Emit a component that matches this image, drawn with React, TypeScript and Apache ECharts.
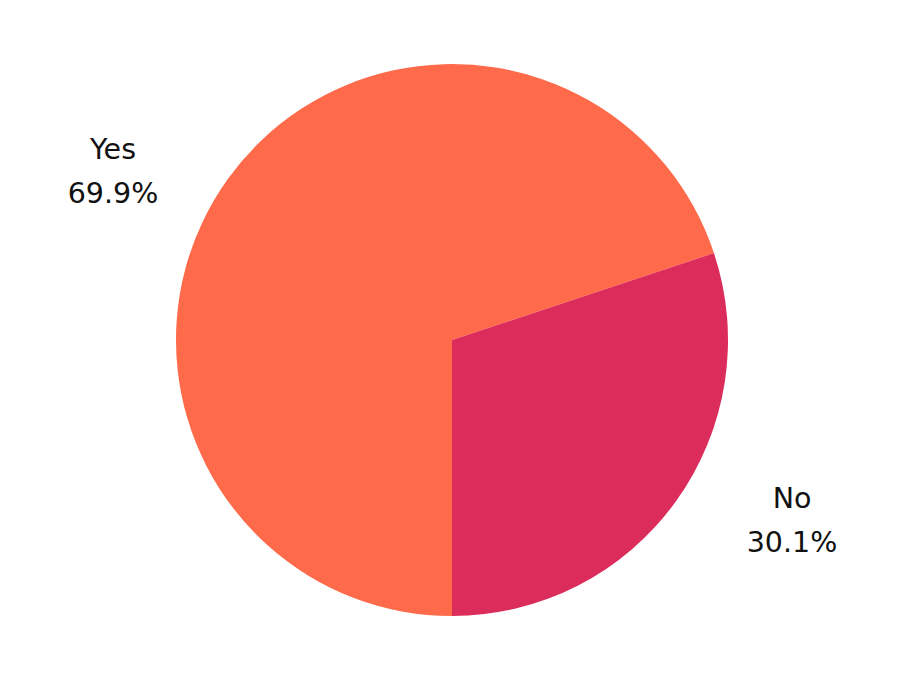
import React, { useEffect, useRef } from "react";
import * as echarts from "echarts";

const categories = ["Yes", "No"];
const values = [69.9, 30.1];
const colors = ["#FF6A4A", "#DB2C5C"];

export default function App() {
  const ref = useRef<HTMLDivElement>(null);
  useEffect(() => {
    document.body.style.margin = "0";
    const chart = echarts.init(ref.current!, null, { renderer: "svg" });
    const labelPos = [
      { x: 113, y: 171 },
      { x: 792, y: 520 },
    ];
    chart.setOption({
      animation: false,
      backgroundColor: "#ffffff",
      series: [
        {
          type: "pie",
          center: [452, 340],
          radius: 276,
          startAngle: 270,
          clockwise: true,
          data: categories.map((c, i) => ({
            name: c,
            value: values[i],
            itemStyle: { color: colors[i] },
          })),
          label: {
            show: true,
            formatter: (p: any) => `${p.name}\n${p.value.toFixed(1)}%`,
            fontFamily: "DejaVu Sans",
            fontSize: 28.5,
            lineHeight: 44,
            color: "#111111",
            align: "center",
          },
          labelLine: { show: false },
          labelLayout: (params: any) => ({
            x: labelPos[params.dataIndex].x,
            y: labelPos[params.dataIndex].y,
            align: "center",
            verticalAlign: "middle",
          }),
          emphasis: { disabled: true },
        },
      ],
    });
    return () => chart.dispose();
  }, []);
  return <div ref={ref} style={{ width: 900, height: 675 }} />;
}
